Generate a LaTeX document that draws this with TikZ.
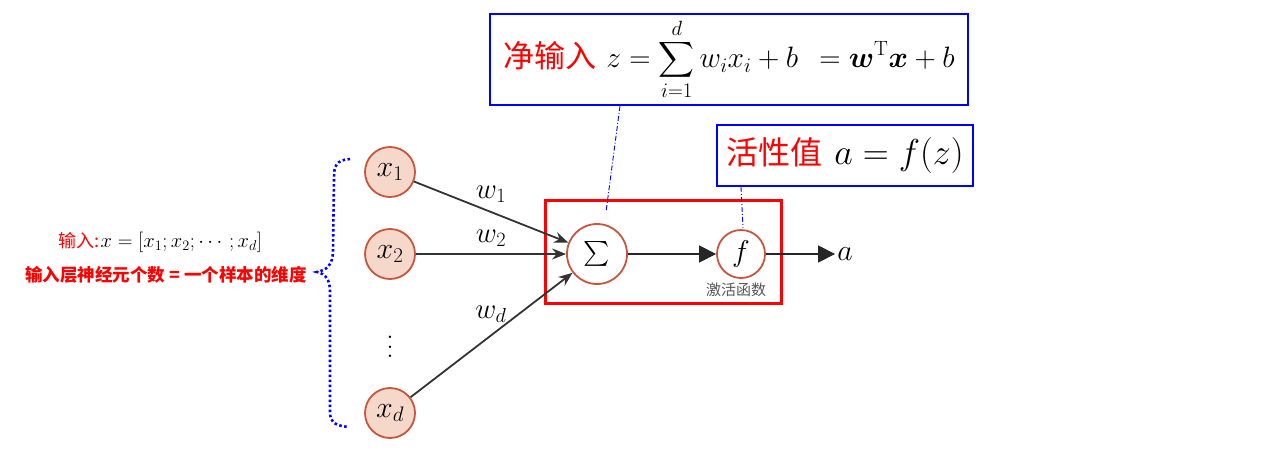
\RequirePackage{fix-cm}
\documentclass[tikz,border=0pt]{standalone}
\usepackage{amsmath,bm}
\usepackage{fontspec}
\newfontfamily\cjk{Noto Sans CJK SC}
\usetikzlibrary{arrows.meta}
\definecolor{nodeborder}{HTML}{C8553D}
\definecolor{nodefill}{HTML}{F6D8CB}
\definecolor{arrgray}{HTML}{333333}
\definecolor{boxblue}{HTML}{0000FF}
\definecolor{boxred}{HTML}{FF0000}
\definecolor{cngray}{HTML}{555555}
\tikzset{
  neuron/.style={circle, draw=nodeborder, fill=nodefill, line width=1.8pt, minimum size=50pt, inner sep=0pt, font=\fontsize{30}{34}\selectfont},
  unit/.style={circle, draw=nodeborder, fill=white, line width=1.8pt, inner sep=0pt, font=\fontsize{30}{34}\selectfont},
  weight/.style={draw=arrgray, line width=1.8pt, -{Stealth[length=14pt,width=11pt]}},
  flow/.style={draw=black!85, line width=1.2pt, -{Triangle[length=17pt,width=17pt]}},
  wlabel/.style={font=\fontsize{29}{32}\selectfont, inner sep=0pt},
  infobox/.style={draw=boxblue, line width=1.2pt, inner sep=0pt},
  leader/.style={draw=boxblue, line width=0.9pt, dash pattern=on 5pt off 2pt on 1pt off 2pt},
  brace/.style={draw=boxblue, line width=2.6pt, dash pattern=on 2.5pt off 2.5pt},
}
\begin{document}
\begin{tikzpicture}[x=1pt,y=-1pt]
\useasboundingbox (0,0) rectangle (1284,460);
% input neurons
\node[neuron] (x1) at (390,172) {$x_1$};
\node[neuron] (x2) at (390,254) {$x_2$};
\node[inner sep=0pt] (dots) at (390,340) {\scalebox{2.3}{$\vdots$}};
\node[neuron] (xd) at (390,413) {$x_d$};
% sum and activation
\node[unit, minimum size=60pt] (sum) at (597,254) {$\sum$};
\node[unit, minimum size=48pt] (f) at (741,254) {$f$};
\node[font=\fontsize{30}{34}\selectfont, inner sep=2pt] (a) at (845,254) {$a$};
\node[font=\cjk\fontsize{15}{17}\selectfont, text=cngray] (actname) at (736,290) {激活函数};
% red box
\node[draw=boxred, line width=3pt, minimum width=236pt, minimum height=103pt, inner sep=0pt] (core) at (663.5,252) {};
% weights
\draw[weight] (x1) -- (sum);
\draw[weight] (x2) -- (sum);
\draw[weight] (xd) -- (sum);
\node[wlabel] (w1) at (491,194) {$w_1$};
\node[wlabel] (w2) at (491,238) {$w_2$};
\node[wlabel] (wd) at (491,314) {$w_d$};
% flow
\draw[flow] (sum) -- (f);
\draw[flow] (f) -- (a);
% info boxes
\node[infobox, minimum width=478pt, minimum height=91pt] (netbox) at (729,59.5)
  {\textcolor{boxred}{\cjk\fontsize{31}{34}\selectfont 净输入}\hspace{10pt}{\fontsize{29.5}{32}\selectfont$\displaystyle z=\sum_{i=1}^{d} w_i x_i + b \;\, = \bm{w}^{\mathrm{T}}\bm{x}+b$}};
\node[infobox, minimum width=256pt, minimum height=61pt] (actbox) at (845,155.5)
  {\textcolor{boxred}{\cjk\fontsize{32}{35}\selectfont 活性值}\hspace{12pt}{\fontsize{36}{39}\selectfont$a=f(z)$}};
\coordinate (l1a) at (620,106);
\coordinate (l1b) at (606,212);
\coordinate (l2a) at (741,187);
\coordinate (l2b) at (743,228);
\draw[leader] (l1a) -- (l1b);
\draw[leader] (l2a) -- (l2b);
% brace
\coordinate (bt) at (350,159);
\coordinate (btip) at (317,272);
\coordinate (bb) at (349,427);
\draw[brace] (bt) .. controls (336,160) and (334,166) .. (334,178)
  -- (333,250) .. controls (333,266) and (326,270) .. (btip)
  .. controls (326,274) and (330,280) .. (330,292)
  -- (330,412) .. controls (330,424) and (338,426) .. (bb);
% left texts
\node[inner sep=0pt, anchor=center] (inlabel) at (160,242)
  {\textcolor{boxred}{\cjk\fontsize{18}{20}\selectfont 输入:}\,{\fontsize{20.5}{23}\selectfont$x=[x_1;x_2;\cdots;x_d]$}};
\node[inner sep=0pt, text=boxred, font=\cjk\bfseries\fontsize{17.5}{20}\selectfont] (dimlabel) at (166,275)
  {输入层神经元个数 = 一个样本的维度};
\end{tikzpicture}
\end{document}
